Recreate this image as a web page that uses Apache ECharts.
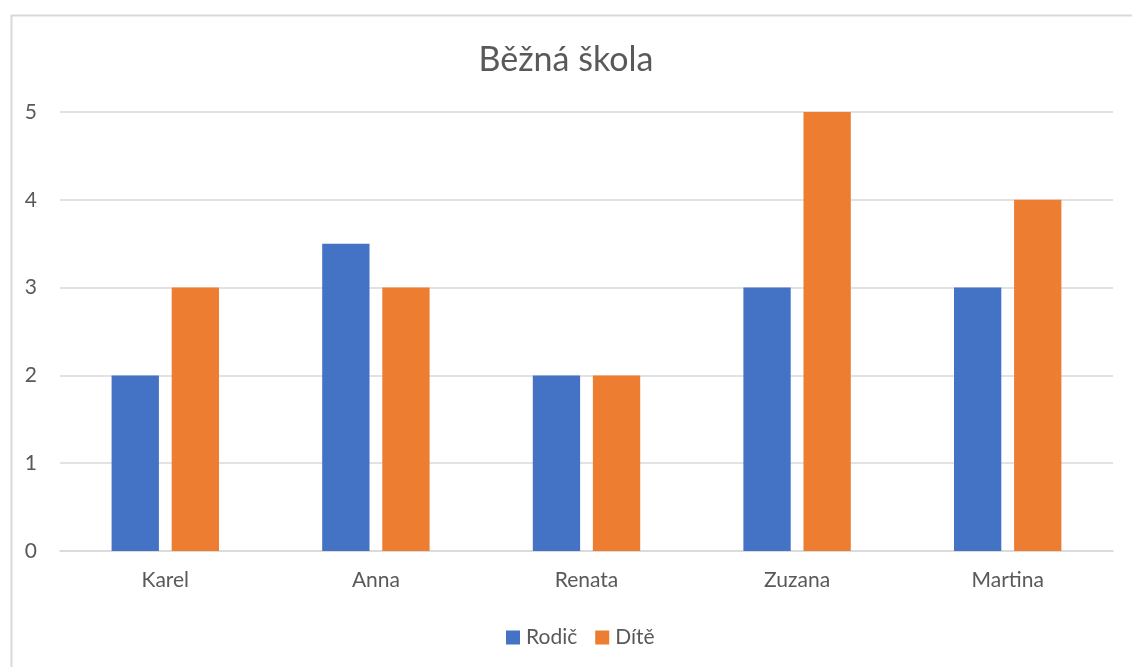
<!DOCTYPE html>
<html>
<head>
<meta charset="utf-8">
<script src="https://cdn.jsdelivr.net/npm/echarts@6/dist/echarts.min.js"></script>
<style>
html,body{margin:0;padding:0;background:#fff;}
#c{width:1132px;height:667px;}
</style>
</head>
<body>
<div id="c"></div>
<script>
const categories = ['Karel', 'Anna', 'Renata', 'Zuzana', 'Martina'];
const rodic = [2, 3.5, 2, 3, 3];
const dite = [3, 3, 2, 5, 4];
const seriesNames = ['Rodič', 'Dítě'];
const yTicks = [0, 1, 2, 3, 4, 5];

const chart = echarts.init(document.getElementById('c'));
const font = 'Lato';
chart.setOption({
  animation: false,
  backgroundColor: '#fff',
  graphic: [{
    type: 'rect', left: 9, top: 13, shape: {width: 1200, height: 1000},
    style: {fill: 'none', stroke: '#d9d9d9', lineWidth: 2}, z: -1
  }],
  title: {
    text: 'Běžná škola', left: 'center', top: 38,
    textStyle: {fontFamily: font, fontSize: 34, fontWeight: 'normal', color: '#595959'}
  },
  legend: {
    data: seriesNames, top: 622, left: 501,
    itemWidth: 14, itemHeight: 14, itemGap: 18, icon: 'rect',
    textStyle: {fontFamily: font, fontSize: 21, color: '#595959', padding: [0,0,0,1]}
  },
  grid: {left: 60, right: 19, top: 112, bottom: 116},
  xAxis: {
    type: 'category', data: categories,
    axisLine: {lineStyle: {color: '#d9d9d9', width: 1.5}},
    axisTick: {show: false},
    axisLabel: {fontFamily: font, fontSize: 21, color: '#595959', margin: 19}
  },
  yAxis: {
    type: 'value', min: yTicks[0], max: yTicks[yTicks.length-1], interval: 1,
    axisLine: {show: false}, axisTick: {show: false},
    splitLine: {lineStyle: {color: '#d9d9d9', width: 1.5}},
    axisLabel: {fontFamily: font, fontSize: 21, color: '#595959', margin: 23}
  },
  series: [
    {name: seriesNames[0], type: 'bar', data: rodic, itemStyle: {color: '#4472C4'},
     barCategoryGap: '49%', barGap: '27%'},
    {name: seriesNames[1], type: 'bar', data: dite, itemStyle: {color: '#ED7D31'},
     barCategoryGap: '49%', barGap: '27%'}
  ]
});
</script>
</body>
</html>
